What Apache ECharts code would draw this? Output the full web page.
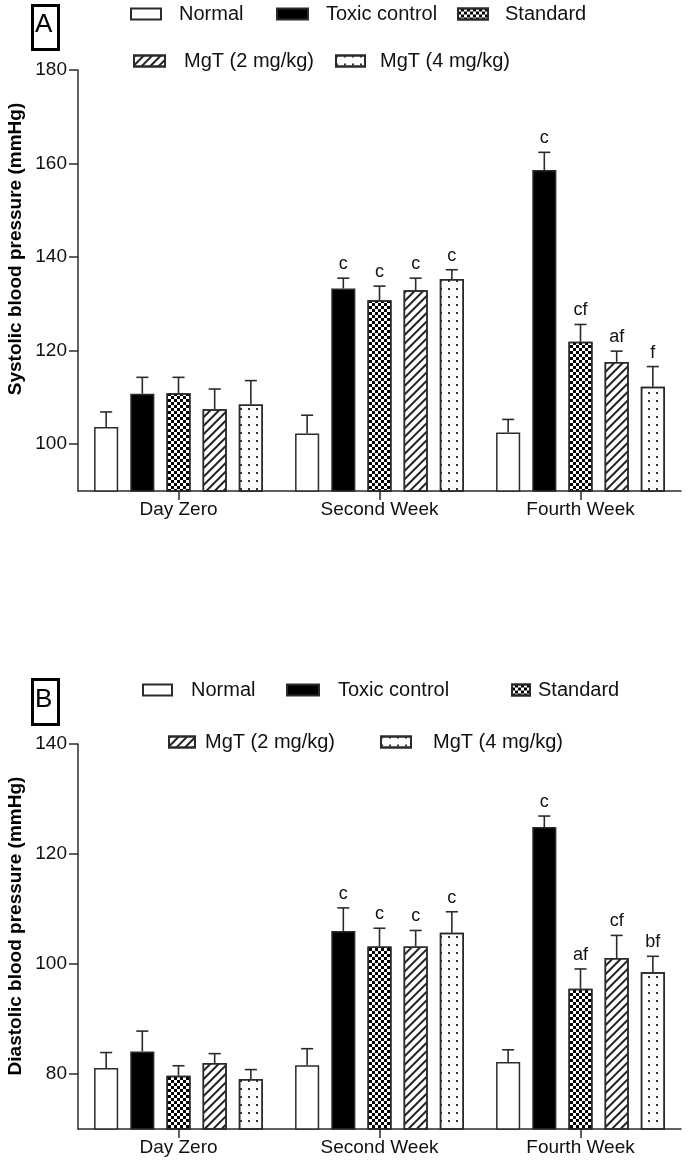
<!DOCTYPE html>
<html>
<head>
<meta charset="utf-8">
<script src="https://cdn.jsdelivr.net/npm/echarts@6/dist/echarts.min.js"></script>
<style>html,body{margin:0;padding:0;background:#fff}#c{width:691px;height:1167px}</style>
</head>
<body>
<div id="c"></div>
<script>
// ---- data ----
const categories = ['Day Zero', 'Second Week', 'Fourth Week'];
const groups = ['Normal', 'Toxic control', 'Standard', 'MgT (2 mg/kg)', 'MgT (4 mg/kg)'];

// Systolic (panel A) means and SEM
const sbpNormal   = [103.7, 102.3, 102.5];
const sbpToxic    = [110.8, 133.3, 158.6];
const sbpStandard = [110.9, 130.8, 121.9];
const sbpMgT2     = [107.5, 132.9, 117.6];
const sbpMgT4     = [108.5, 135.3, 112.3];
const sbpErrNormal   = [3.2, 3.9, 2.8];
const sbpErrToxic    = [3.5, 2.2, 3.8];
const sbpErrStandard = [3.4, 3.0, 3.7];
const sbpErrMgT2     = [4.3, 2.6, 2.3];
const sbpErrMgT4     = [5.1, 2.0, 4.3];
const sbpSigNormal   = ['', '', ''];
const sbpSigToxic    = ['', 'c', 'c'];
const sbpSigStandard = ['', 'c', 'cf'];
const sbpSigMgT2     = ['', 'c', 'af'];
const sbpSigMgT4     = ['', 'c', 'f'];

// Diastolic (panel B) means and SEM
const dbpNormal   = [81.1, 81.6, 82.2];
const dbpToxic    = [84.1, 106.0, 124.9];
const dbpStandard = [79.7, 103.2, 95.5];
const dbpMgT2     = [82.0, 103.2, 101.1];
const dbpMgT4     = [79.1, 105.7, 98.5];
const dbpErrNormal   = [2.8, 3.0, 2.2];
const dbpErrToxic    = [3.7, 4.2, 2.0];
const dbpErrStandard = [1.8, 3.3, 3.6];
const dbpErrMgT2     = [1.7, 2.9, 4.1];
const dbpErrMgT4     = [1.7, 3.8, 2.9];
const dbpSigNormal   = ['', '', ''];
const dbpSigToxic    = ['', 'c', 'c'];
const dbpSigStandard = ['', 'c', 'af'];
const dbpSigMgT2     = ['', 'c', 'cf'];
const dbpSigMgT4     = ['', 'c', 'bf'];

const sbpTicks = [100, 120, 140, 160, 180];
const dbpTicks = [80, 100, 120, 140];

// ---- styles ----
const FONT = '"Liberation Sans", Arial, sans-serif';
const INK = '#2b2b2b';
const BAR_FRAC = 0.12;   // bar width as fraction of category band
const GAP_FRAC = 0.5;    // gap between bars relative to bar width
const decals = [
  null,
  null,
  {symbol: 'rect', symbolSize: 1, color: '#000', backgroundColor: null,
   dashArrayX: [[2.5, 2.5], [0, 2.5, 2.5, 0]], dashArrayY: [2.5, 0]},
  {symbol: 'rect', symbolSize: 1, color: '#222', backgroundColor: null,
   dashArrayX: [1, 0], dashArrayY: [1.4, 3.4], rotation: -Math.PI / 4},
  {symbol: 'rect', symbolSize: 1, color: '#333', backgroundColor: null,
   dashArrayX: [1.4, 5.6], dashArrayY: [1.4, 5.6]}
];
const fills = ['#ffffff', '#000000', '#ffffff', '#ffffff', '#ffffff'];

const panels = [
  {means: [sbpNormal, sbpToxic, sbpStandard, sbpMgT2, sbpMgT4],
   errs: [sbpErrNormal, sbpErrToxic, sbpErrStandard, sbpErrMgT2, sbpErrMgT4],
   sigs: [sbpSigNormal, sbpSigToxic, sbpSigStandard, sbpSigMgT2, sbpSigMgT4]},
  {means: [dbpNormal, dbpToxic, dbpStandard, dbpMgT2, dbpMgT4],
   errs: [dbpErrNormal, dbpErrToxic, dbpErrStandard, dbpErrMgT2, dbpErrMgT4],
   sigs: [dbpSigNormal, dbpSigToxic, dbpSigStandard, dbpSigMgT2, dbpSigMgT4]}
];

const series = [];
panels.forEach((p, pi) => {
  groups.forEach((g, gi) => {
    series.push({
      name: g, type: 'bar', xAxisIndex: pi, yAxisIndex: pi,
      barWidth: (BAR_FRAC * 100) + '%', barGap: (GAP_FRAC * 100) + '%',
      data: p.means[gi],
      itemStyle: {color: fills[gi], borderColor: INK, borderWidth: 1.5,
                  decal: decals[gi] || undefined},
      emphasis: {disabled: true},
      z: 2
    });
  });
  groups.forEach((g, gi) => {
    const data = p.means[gi].map((m, ci) => [ci, m, m + p.errs[gi][ci]]);
    const sig = p.sigs[gi];
    series.push({
      name: g + ' err', type: 'custom', xAxisIndex: pi, yAxisIndex: pi,
      data: data, z: 3, silent: true,
      encode: {x: 0, y: [1, 2]},
      renderItem: (params, api) => {
        const ci = api.value(0);
        const a = api.coord([ci, api.value(1)]);
        const b = api.coord([ci, api.value(2)]);
        const band = api.size([1, 0])[0];
        const step = band * BAR_FRAC * (1 + GAP_FRAC);
        const x = a[0] + step * (gi - 2);
        const cap = band * BAR_FRAC * 0.5;
        const children = [
          {type: 'line', shape: {x1: x, y1: a[1], x2: x, y2: b[1]},
           style: {stroke: INK, lineWidth: 1.6}},
          {type: 'line', shape: {x1: x - cap / 2, y1: b[1], x2: x + cap / 2, y2: b[1]},
           style: {stroke: INK, lineWidth: 1.6}}
        ];
        const t = sig[params.dataIndex];
        if (t) children.push({type: 'text', x: x, y: b[1] - 5,
          style: {text: t, fill: '#111', font: '18px ' + FONT, align: 'center', verticalAlign: 'bottom'}});
        return {type: 'group', children: children};
      }
    });
  });
});

function legendItem(name, left, cy, w, textLeft) {
  return {left: left, top: cy - 11, padding: 0, icon: 'rect', itemWidth: w, itemHeight: 11,
    selectedMode: false, data: [name],
    textStyle: {fontSize: 20, color: '#111', fontFamily: FONT,
                padding: [0, 0, 0, Math.max(0, textLeft - left - w - 5)]}};
}

const yAxisCommon = (min, max, ticks) => ({
  type: 'value', min: min, max: max,
  axisLine: {show: true, lineStyle: {color: INK, width: 1.5}},
  axisTick: {show: true, length: 9, customValues: ticks, lineStyle: {color: INK, width: 1.5}},
  axisLabel: {customValues: ticks, fontSize: 19, color: '#111', fontFamily: FONT, margin: 11},
  splitLine: {show: false}
});
const xAxisCommon = (gi) => ({
  type: 'category', gridIndex: gi, data: categories,
  axisLine: {show: true, lineStyle: {color: INK, width: 1.5}},
  axisTick: {show: true, alignWithLabel: true, length: 9, lineStyle: {color: INK, width: 1.5}},
  axisLabel: {fontSize: 19, color: '#111', fontFamily: FONT, margin: 9}
});

const option = {
  backgroundColor: '#fff',
  animation: false,
  grid: [
    {left: 78, top: 70, width: 603, height: 421},
    {left: 78, top: 744, width: 603, height: 385}
  ],
  xAxis: [xAxisCommon(0), xAxisCommon(1)],
  yAxis: [Object.assign({gridIndex: 0}, yAxisCommon(90, 180, sbpTicks)),
          Object.assign({gridIndex: 1}, yAxisCommon(70, 140, dbpTicks))],
  legend: [
    legendItem(groups[0], 130, 15, 30, 178),
    legendItem(groups[1], 276, 15, 31, 325),
    legendItem(groups[2], 457, 15, 30, 504),
    legendItem(groups[3], 133, 62, 31, 183),
    legendItem(groups[4], 335, 62, 29, 379),
    legendItem(groups[0], 142, 691, 29, 190),
    legendItem(groups[1], 286, 691, 32, 337),
    legendItem(groups[2], 511, 691, 18, 537),
    legendItem(groups[3], 168, 743, 26, 204),
    legendItem(groups[4], 380, 743, 30, 432)
  ],
  graphic: [
    {type: 'rect', left: 31, top: 4, shape: {width: 26, height: 44},
     style: {fill: '#fff', stroke: '#000', lineWidth: 3}},
    {type: 'text', left: 35, top: 12, style: {text: 'A', font: '26px ' + FONT, fill: '#000'}},
    {type: 'rect', left: 31, top: 678, shape: {width: 26, height: 45},
     style: {fill: '#fff', stroke: '#000', lineWidth: 3}},
    {type: 'text', left: 35, top: 687, style: {text: 'B', font: '26px ' + FONT, fill: '#000'}},
    {type: 'text', x: 16, y: 249, rotation: Math.PI / 2,
     style: {text: 'Systolic blood pressure (mmHg)', font: 'bold 19px ' + FONT, fill: '#000',
             align: 'center', verticalAlign: 'middle'}},
    {type: 'text', x: 16, y: 926, rotation: Math.PI / 2,
     style: {text: 'Diastolic blood pressure (mmHg)', font: 'bold 19px ' + FONT, fill: '#000',
             align: 'center', verticalAlign: 'middle'}}
  ],
  series: series
};

const chart = echarts.init(document.getElementById('c'), null, {renderer: 'canvas'});
chart.setOption(option);
</script>
</body>
</html>
